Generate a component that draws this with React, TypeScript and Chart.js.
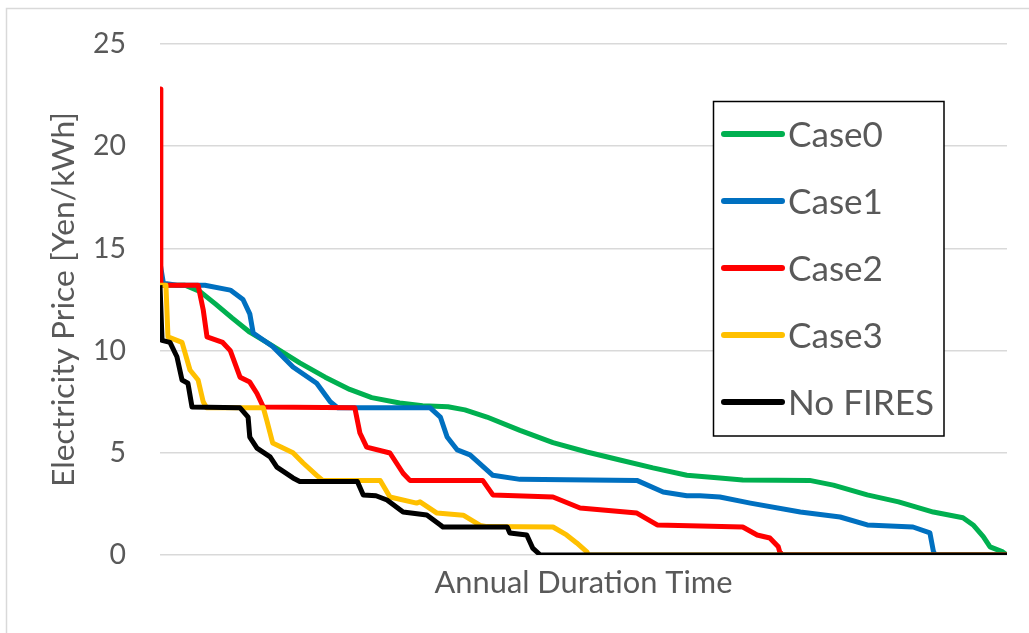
import React, { useEffect, useRef } from "react";
import { Chart, registerables } from "chart.js";

Chart.register(...registerables);

// ---- data (x: share of annual duration, %, y: price Yen/kWh) ----
const SERIES_NAMES = ["Case0", "Case1", "Case2", "Case3", "No FIRES"];
const SERIES_COLORS = ["#00B050", "#0070C0", "#FF0000", "#FFC000", "#000000"];

const CASE0_X = [0, 2.95, 4.7, 6.5, 8.5, 10.6, 13.0, 16.5, 19.5, 22.4, 25.0, 28.3, 31.0, 34.0, 36.0, 38.6, 42.5, 46.4, 50.4, 54.3, 58.2, 62.2, 66.1, 68.8, 76.7, 79.5, 83.5, 87.2, 91.3, 94.8, 96.0, 97.2, 98.0, 99.5, 100];
const CASE0_Y = [13.2, 13.2, 12.9, 12.3, 11.6, 10.9, 10.3, 9.4, 8.7, 8.1, 7.7, 7.44, 7.3, 7.25, 7.1, 6.75, 6.1, 5.5, 5.04, 4.65, 4.26, 3.9, 3.77, 3.67, 3.65, 3.42, 2.94, 2.6, 2.1, 1.82, 1.47, 0.9, 0.4, 0.15, 0];

const CASE1_X = [0, 0.4, 2.0, 5.3, 8.3, 9.8, 10.6, 11.0, 13.3, 15.7, 18.5, 20.1, 21.0, 31.9, 33.1, 33.9, 35.1, 36.6, 39.3, 42.5, 56.3, 59.4, 62.2, 63.75, 66.1, 69.7, 75.6, 80.3, 83.5, 88.9, 90.9, 91.3, 91.5, 100];
const CASE1_Y = [14.3, 13.3, 13.2, 13.2, 12.96, 12.5, 11.8, 10.86, 10.2, 9.2, 8.4, 7.5, 7.2, 7.2, 6.75, 5.77, 5.14, 4.9, 3.9, 3.7, 3.65, 3.08, 2.9, 2.9, 2.84, 2.54, 2.1, 1.86, 1.47, 1.37, 1.08, 0.2, 0, 0];

const CASE2_X = [0, 0.1, 4.5, 5.1, 5.55, 7.4, 8.3, 9.45, 10.6, 11.45, 12.2, 23.0, 23.6, 24.4, 27.15, 28.7, 29.5, 38.1, 39.3, 46.4, 49.6, 56.3, 58.7, 68.8, 70.5, 72.0, 73.0, 73.2, 73.3, 100];
const CASE2_Y = [22.8, 13.2, 13.2, 12.0, 10.67, 10.4, 10.0, 8.7, 8.46, 7.9, 7.24, 7.2, 5.97, 5.28, 4.99, 4.0, 3.65, 3.65, 2.94, 2.84, 2.3, 2.05, 1.47, 1.37, 0.98, 0.83, 0.4, 0.1, 0, 0];

const CASE3_X = [0, 0.7, 0.94, 2.6, 3.54, 4.5, 5.1, 5.5, 12.2, 12.6, 13.3, 15.7, 16.9, 18.5, 19.2, 26.0, 27.15, 30.3, 30.7, 32.7, 35.8, 37.8, 38.6, 46.4, 48.0, 49.2, 50.4, 50.6, 100];
const CASE3_Y = [13.2, 13.2, 10.67, 10.4, 9.05, 8.56, 7.5, 7.2, 7.2, 6.6, 5.48, 5.0, 4.5, 3.9, 3.65, 3.65, 2.84, 2.54, 2.6, 2.05, 1.95, 1.45, 1.39, 1.37, 0.98, 0.59, 0.15, 0, 0];

const NOFIRES_X = [0, 0.24, 1.18, 2.0, 2.6, 3.3, 3.78, 9.45, 10.4, 10.6, 11.45, 13.0, 13.8, 15.7, 16.5, 23.3, 24.0, 25.5, 26.8, 28.7, 31.5, 33.1, 33.4, 41.0, 41.3, 43.3, 44.0, 44.9, 100];
const NOFIRES_Y = [13.2, 10.5, 10.4, 9.7, 8.56, 8.4, 7.24, 7.2, 6.75, 5.77, 5.23, 4.8, 4.3, 3.77, 3.6, 3.6, 2.94, 2.9, 2.69, 2.1, 1.96, 1.47, 1.37, 1.37, 1.08, 0.98, 0.34, 0, 0];

const SERIES_X = [CASE0_X, CASE1_X, CASE2_X, CASE3_X, NOFIRES_X];
const SERIES_Y = [CASE0_Y, CASE1_Y, CASE2_Y, CASE3_Y, NOFIRES_Y];

const Y_TICKS = [0, 5, 10, 15, 20, 25];
const X_TITLE = "Annual Duration Time";
const Y_TITLE = "Electricity Price [Yen/kWh]";

const FONT = "Lato";
const TEXT_COLOR = "#595959";

function fitSize(text: string, target: number): number {
  const c = document.createElement("canvas").getContext("2d")!;
  c.font = `100px ${FONT}`;
  const w = c.measureText(text).width || 100;
  return (100 * target) / w;
}

export default function App() {
  const ref = useRef<HTMLCanvasElement | null>(null);

  useEffect(() => {
    const canvas = ref.current;
    if (!canvas) return;

    const tickSize = fitSize("25", 33);
    const xTitleSize = fitSize(X_TITLE, 298);
    const yTitleSize = fitSize(Y_TITLE, 375);
    const legendSize = fitSize("Case0", 95);

    const datasets = SERIES_NAMES.map((name, i) => ({
      label: name,
      data: SERIES_X[i].map((x, j) => ({ x, y: SERIES_Y[i][j] })),
      borderColor: SERIES_COLORS[i],
      backgroundColor: SERIES_COLORS[i],
      borderWidth: 5,
      pointRadius: 0,
      tension: 0,
      fill: false,
      borderJoinStyle: "round" as const,
      borderCapStyle: "butt" as const,
      order: SERIES_NAMES.length - i,
    }));

    const framePlugin = {
      id: "frame",
      beforeDraw(chart: any) {
        const ctx = chart.ctx;
        ctx.save();
        ctx.fillStyle = "#ffffff";
        ctx.fillRect(0, 0, chart.width, chart.height);
        ctx.strokeStyle = "#D9D9D9";
        ctx.lineWidth = 1.5;
        ctx.strokeRect(6.5, 8.5, 1100, 700);
        ctx.restore();
      },
      afterDraw(chart: any) {
        const ctx = chart.ctx;
        ctx.save();
        const bx = 713.5, by = 101.5, bw = 230.5, bh = 334.5;
        ctx.fillStyle = "#ffffff";
        ctx.fillRect(bx, by, bw, bh);
        ctx.strokeStyle = "#000000";
        ctx.lineWidth = 1.5;
        ctx.strokeRect(bx, by, bw, bh);
        ctx.font = `${legendSize}px ${FONT}`;
        ctx.textBaseline = "middle";
        ctx.textAlign = "left";
        SERIES_NAMES.forEach((name, i) => {
          const y = 134 + i * 67;
          ctx.strokeStyle = SERIES_COLORS[i];
          ctx.lineWidth = 6;
          ctx.lineCap = "round";
          ctx.beginPath();
          ctx.moveTo(724, y);
          ctx.lineTo(782, y);
          ctx.stroke();
          ctx.fillStyle = TEXT_COLOR;
          ctx.fillText(name, 788, y + 2);
        });
        ctx.restore();
      },
    };

    const chart = new Chart(canvas, {
      type: "line",
      data: { datasets },
      options: {
        animation: false,
        responsive: false,
        devicePixelRatio: 1,
        layout: { padding: { left: 0, right: 22, top: 44, bottom: 0 } },
        plugins: { legend: { display: false }, tooltip: { enabled: false } },
        scales: {
          x: {
            type: "linear",
            min: 0,
            max: 100,
            grid: { display: false },
            border: { display: false },
            ticks: { display: false },
            title: {
              display: true,
              text: X_TITLE,
              color: TEXT_COLOR,
              font: { family: FONT, size: xTitleSize, lineHeight: 1.2 },
              padding: { top: 0, bottom: 31 },
            },
            afterFit(scale: any) {
              scale.height = 78;
              scale.paddingLeft = 0;
              scale.paddingRight = 0;
            },
          },
          y: {
            type: "linear",
            min: 0,
            max: 25,
            afterBuildTicks(scale: any) {
              scale.ticks = Y_TICKS.map((v) => ({ value: v }));
            },
            grid: { color: "#D9D9D9", lineWidth: 1.5, drawTicks: false },
            border: { display: false },
            ticks: {
              padding: 34,
              color: TEXT_COLOR,
              font: { family: FONT, size: tickSize },
            },
            title: {
              display: true,
              text: Y_TITLE,
              color: TEXT_COLOR,
              font: { family: FONT, size: yTitleSize, lineHeight: 1.2 },
              padding: { top: 45, bottom: 0 },
            },
            afterFit(scale: any) {
              scale.width = 160;
              scale.paddingTop = 0;
              scale.paddingBottom = 0;
            },
          },
        },
      },
      plugins: [framePlugin],
    } as any);

    return () => chart.destroy();
  }, []);

  return (
    <div style={{ position: "fixed", left: 0, top: 0, width: 1029, height: 633, background: "#fff" }}>
      <canvas ref={ref} width={1029} height={633} style={{ display: "block" }} />
    </div>
  );
}
